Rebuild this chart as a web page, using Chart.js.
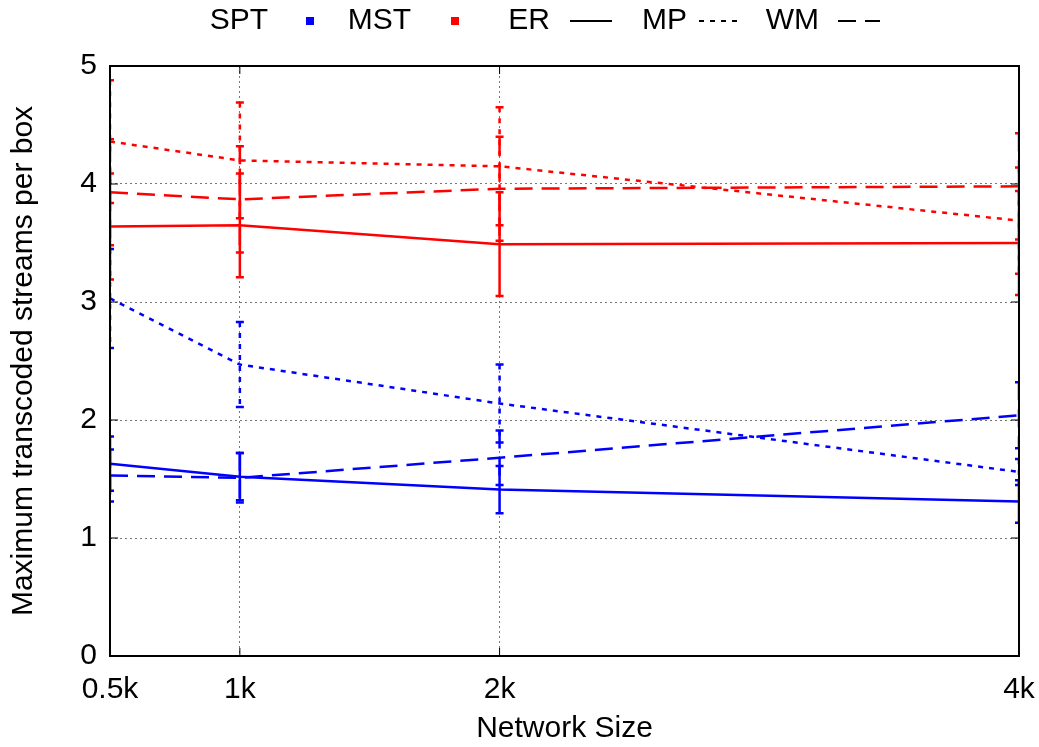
<!DOCTYPE html>
<html>
<head>
<meta charset="utf-8">
<script src="https://cdn.jsdelivr.net/npm/chart.js@4.4.1/dist/chart.umd.min.js"></script>
<style>
  html, body { margin: 0; padding: 0; background: #fff; }
</style>
</head>
<body>
<canvas id="c" width="1039" height="747"></canvas>
<script>
// network sizes (thousands) and their tick labels
const sizes = [0.5, 1, 2, 4];
const sizeLabels = ['0.5k', '1k', '2k', '4k'];

// SPT (blue) series: mean and error half-width
const sptER = [1.63, 1.52, 1.41, 1.31];
const sptERerr = [0.23, 0.20, 0.20, 0.18];
const sptMP = [3.03, 2.47, 2.14, 1.56];
const sptMPerr = [0.42, 0.36, 0.33, 0.11];
const sptWM = [1.53, 1.51, 1.68, 2.04];
const sptWMerr = [0.22, 0.21, 0.23, 0.28];

// MST (red) series
const mstER = [3.64, 3.65, 3.49, 3.50];
const mstERerr = [0.45, 0.44, 0.44, 0.44];
const mstMP = [4.36, 4.20, 4.15, 3.69];
const mstMPerr = [0.52, 0.49, 0.50, 0.45];
const mstWM = [3.93, 3.87, 3.96, 3.98];
const mstWMerr = [0.45, 0.45, 0.44, 0.45];

const BLUE = '#0000ff';
const RED = '#ff0000';
const FONT = 'Liberation Sans, Arial, sans-serif';
const FS = 30;

const dashes = { ER: [], MP: [5, 6], WM: [18, 9] };

const mk = (label, ys, err, color, kind) => ({
  label,
  data: sizes.map((x, i) => ({ x, y: ys[i] })),
  err,
  borderColor: color,
  backgroundColor: color,
  borderWidth: 2.5,
  borderDash: dashes[kind],
  pointRadius: 0,
  tension: 0,
  kind
});

// error bars drawn with the library's scales
const errorBars = {
  id: 'errorBars',
  afterDatasetsDraw(chart) {
    const { ctx, chartArea: a, scales: { x, y } } = chart;
    ctx.save();
    ctx.beginPath();
    ctx.rect(a.left, a.top - 1, a.right - a.left, a.bottom - a.top + 2);
    ctx.clip();
    chart.data.datasets.forEach(ds => {
      ds.data.forEach((p, i) => {
        const px = x.getPixelForValue(p.x);
        const top = y.getPixelForValue(p.y + ds.err[i]);
        const bot = y.getPixelForValue(p.y - ds.err[i]);
        ctx.strokeStyle = ds.borderColor;
        ctx.lineWidth = 2.5;
        ctx.setLineDash(ds.borderDash);
        ctx.beginPath();
        ctx.moveTo(px, top);
        ctx.lineTo(px, bot);
        ctx.stroke();
        ctx.setLineDash([]);
        ctx.beginPath();
        ctx.moveTo(px - 4, top); ctx.lineTo(px + 4, top);
        ctx.moveTo(px - 4, bot); ctx.lineTo(px + 4, bot);
        ctx.stroke();
      });
    });
    ctx.restore();
  }
};

// gnuplot-like border, inward ticks and the key on top
const frame = {
  id: 'frame',
  afterDraw(chart) {
    const { ctx, chartArea: a, scales: { x, y } } = chart;
    ctx.save();
    ctx.strokeStyle = '#000';
    ctx.lineWidth = 1;
    y.ticks.forEach(t => {
      const py = y.getPixelForValue(t.value);
      ctx.beginPath();
      ctx.moveTo(a.left, py); ctx.lineTo(a.left + 8, py);
      ctx.moveTo(a.right, py); ctx.lineTo(a.right - 8, py);
      ctx.stroke();
    });
    x.ticks.forEach(t => {
      const px = x.getPixelForValue(t.value);
      ctx.beginPath();
      ctx.moveTo(px, a.bottom); ctx.lineTo(px, a.bottom - 8);
      ctx.moveTo(px, a.top); ctx.lineTo(px, a.top + 8);
      ctx.stroke();
    });
    ctx.lineWidth = 2;
    ctx.strokeRect(a.left, a.top, a.right - a.left, a.bottom - a.top);

    // key
    const keyY = 21;
    const key = [
      { text: 'SPT', end: 268, c: 310, type: 'box', color: BLUE },
      { text: 'MST', end: 411, c: 455, type: 'box', color: RED },
      { text: 'ER', end: 550, c: 591, type: 'line', dash: dashes.ER },
      { text: 'MP', end: 687, c: 720, type: 'line', dash: dashes.MP },
      { text: 'WM', end: 819, c: 859, type: 'line', dash: dashes.WM }
    ];
    ctx.font = FS + 'px ' + FONT;
    ctx.fillStyle = '#000';
    ctx.textAlign = 'right';
    ctx.textBaseline = 'middle';
    key.forEach(k => {
      ctx.fillText(k.text, k.end, keyY);
      if (k.type === 'box') {
        ctx.fillStyle = k.color;
        ctx.fillRect(k.c - 4, keyY - 4, 8, 8);
        ctx.fillStyle = '#000';
      } else {
        ctx.strokeStyle = '#000';
        ctx.lineWidth = 2;
        ctx.setLineDash(k.dash);
        ctx.beginPath();
        ctx.moveTo(k.c - 21, keyY);
        ctx.lineTo(k.c + 21, keyY);
        ctx.stroke();
        ctx.setLineDash([]);
      }
    });
    ctx.restore();
  }
};

new Chart(document.getElementById('c'), {
  type: 'line',
  data: {
    datasets: [
      mk('MST ER', mstER, mstERerr, RED, 'ER'),
      mk('MST MP', mstMP, mstMPerr, RED, 'MP'),
      mk('MST WM', mstWM, mstWMerr, RED, 'WM'),
      mk('SPT ER', sptER, sptERerr, BLUE, 'ER'),
      mk('SPT MP', sptMP, sptMPerr, BLUE, 'MP'),
      mk('SPT WM', sptWM, sptWMerr, BLUE, 'WM')
    ]
  },
  options: {
    responsive: false,
    animation: false,
    layout: { padding: { top: 66, right: 20, bottom: 0, left: 0 } },
    plugins: { legend: { display: false }, tooltip: { enabled: false } },
    scales: {
      x: {
        type: 'linear',
        min: 0.5,
        max: 4,
        afterBuildTicks: s => { s.ticks = sizes.map(v => ({ value: v })); },
        afterFit: s => { s.height = 91; s.paddingLeft = 0; s.paddingRight = 0; },
        ticks: {
          callback: v => sizeLabels[sizes.indexOf(v)],
          font: { family: FONT, size: FS },
          color: '#000',
          padding: 16,
          maxRotation: 0,
          autoSkip: false
        },
        grid: { color: '#777', lineWidth: 1, drawTicks: false },
        border: { display: false, dash: [2, 3] },
        title: {
          display: true,
          text: 'Network Size',
          font: { family: FONT, size: FS },
          color: '#000',
          padding: { top: 0, bottom: 0 }
        }
      },
      y: {
        min: 0,
        max: 5,
        afterFit: s => { s.width = 110; s.paddingTop = 0; s.paddingBottom = 0; },
        ticks: {
          stepSize: 1,
          font: { family: FONT, size: FS },
          color: '#000',
          padding: 13
        },
        grid: { color: '#777', lineWidth: 1, drawTicks: false },
        border: { display: false, dash: [2, 3] },
        title: {
          display: true,
          text: 'Maximum transcoded streams per box',
          font: { family: FONT, size: FS },
          color: '#000',
          padding: { top: 6, bottom: 0 }
        }
      }
    }
  },
  plugins: [errorBars, frame]
});
</script>
</body>
</html>
